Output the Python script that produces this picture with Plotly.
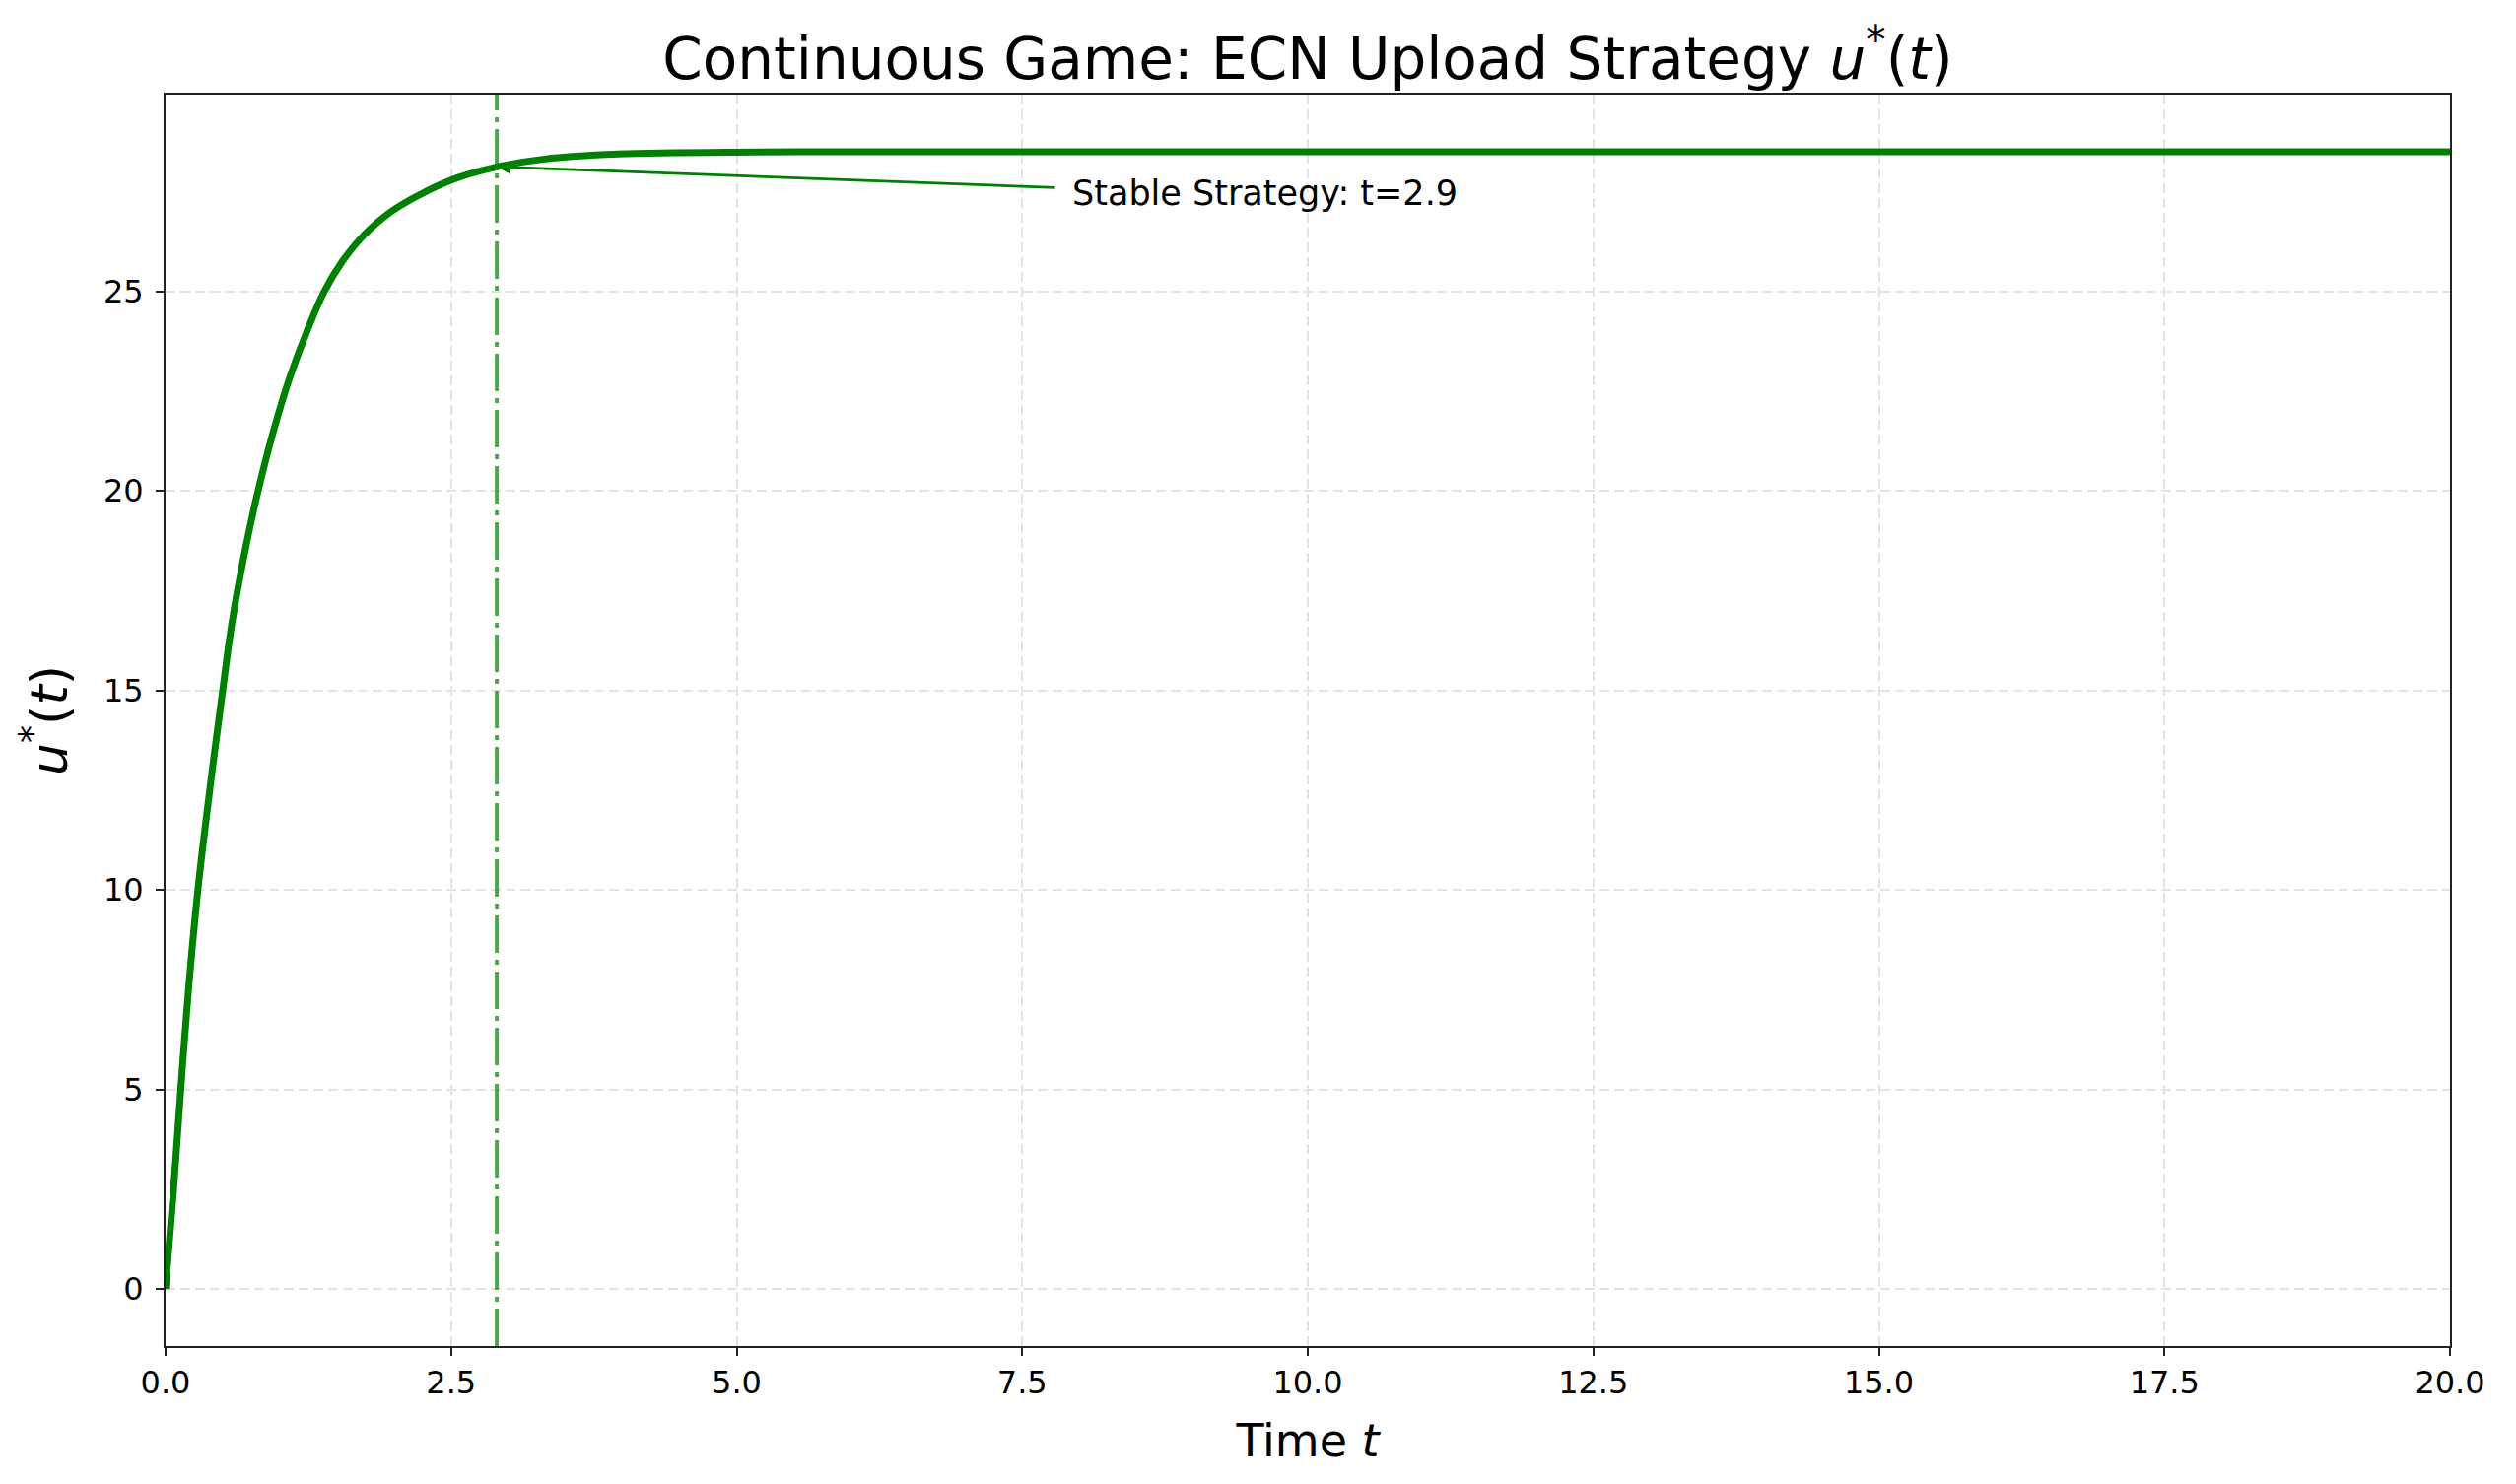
import plotly.graph_objects as go

# u*(t)
t_vals = [0.0, 0.07, 0.133, 0.2, 0.283, 0.388, 0.5, 0.58, 0.70, 0.81, 0.935, 1.085,
          1.245, 1.39, 1.55, 1.74, 1.97, 2.25, 2.55, 2.9, 3.3, 3.96, 5.18, 6.5,
          10.0, 15.0, 20.0]
u_vals = [0.0, 2.5, 5.0, 7.47, 10.0, 12.53, 15.0, 16.67, 18.56, 20.0, 21.4, 22.82,
          24.05, 25.0, 25.76, 26.42, 26.99, 27.46, 27.84, 28.12, 28.31, 28.44, 28.49, 28.5,
          28.5, 28.5, 28.5]

stable_t = 2.9
stable_u = 28.12
label_t = 7.92
label_u = 27.45

x_ticks = [0.0, 2.5, 5.0, 7.5, 10.0, 12.5, 15.0, 17.5, 20.0]
y_ticks = [0, 5, 10, 15, 20, 25]

FONT = "DejaVu Sans"
GREEN = "#008000"

fig = go.Figure()

fig.add_trace(go.Scatter(
    x=t_vals, y=u_vals, mode="lines",
    line=dict(color=GREEN, width=7, shape="spline", smoothing=1.0),
    showlegend=False,
))

# stable time marker
fig.add_vline(x=stable_t, line=dict(color="rgba(0,128,0,0.7)", width=4, dash="38px,7px,5px,7px"))

# arrow + label
fig.add_annotation(
    x=stable_t, y=stable_u, ax=label_t - 0.12, ay=label_u + 0.15,
    xref="x", yref="y", axref="x", ayref="y",
    text="", showarrow=True, arrowhead=2, arrowsize=1, arrowwidth=2.8, arrowcolor=GREEN,
)
fig.add_annotation(
    x=label_t, y=label_u, xref="x", yref="y", text="Stable Strategy: t=2.9",
    showarrow=False, xanchor="left", yanchor="middle",
    font=dict(family=FONT, size=35, color="black"),
)

axis_common = dict(
    showline=True, linecolor="#222222", linewidth=2, mirror=True,
    ticks="outside", ticklen=8, tickwidth=2, tickcolor="#222222",
    showgrid=True, gridcolor="#e3e3e3", gridwidth=2, griddash="10px,5px",
    zeroline=False, tickfont=dict(family=FONT, size=32, color="black"),
    automargin=False,
)

fig.update_xaxes(
    range=[0, 20], tickvals=x_ticks, ticktext=[f"{v:.1f}" for v in x_ticks],
    title=dict(text="Time <i>t</i>", font=dict(family=FONT, size=46, color="black"), standoff=24),
    **axis_common,
)
fig.update_yaxes(
    range=[-1.43, 29.93], tickvals=y_ticks, ticklabelstandoff=6,
    title=dict(text="<i>u</i><sup>*</sup>(<i>t</i>)", font=dict(family=FONT, size=52, color="black"), standoff=20),
    **axis_common,
)

# page body adds an 8px offset, so margins are trimmed on left/top
fig.update_layout(
    width=2553, height=1506,
    margin=dict(l=160, r=75, t=88, b=148),
    plot_bgcolor="white", paper_bgcolor="white",
    title=dict(
        text="Continuous Game: ECN Upload Strategy <i>u</i><sup>*</sup>(<i>t</i>)",
        x=0.5, xref="paper", y=0.966, yanchor="middle",
        font=dict(family=FONT, size=58, color="black"),
    ),
)

fig.write_html("out.html")
